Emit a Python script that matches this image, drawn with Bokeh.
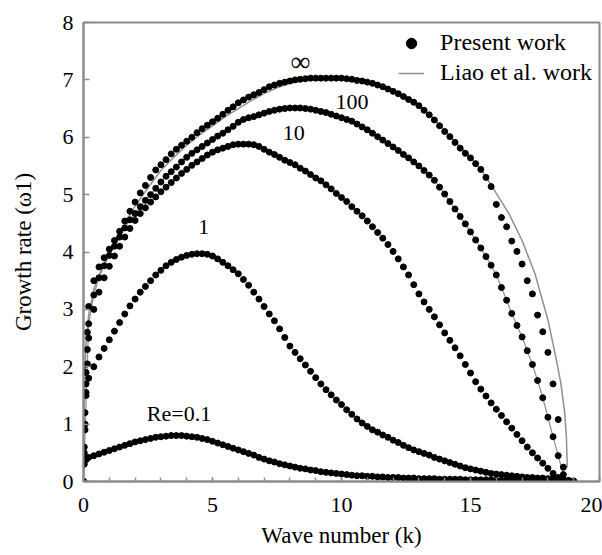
from bokeh.plotting import figure
from bokeh.models import Label, Legend, LegendItem, SingleIntervalTicker, Range1d
from bokeh.embed import file_html
from bokeh.resources import INLINE

# ---------------- data ----------------
K_GRID = [0.2, 0.4, 0.6, 0.8, 1.0, 1.2, 1.4, 1.6, 1.8, 2.0,
          2.2, 2.4, 2.6, 2.8, 3.0, 3.2, 3.4, 3.6, 3.8, 4.0,
          4.2, 4.4, 4.6, 4.8, 5.0, 5.2, 5.4, 5.6, 5.8, 6.0,
          6.2, 6.4, 6.6, 6.8, 7.0, 7.2, 7.4, 7.6, 7.8, 8.0,
          8.2, 8.4, 8.6, 8.8, 9.0, 9.2, 9.4, 9.6, 9.8, 10.0,
          10.2, 10.4, 10.6, 10.8, 11.0, 11.2, 11.4, 11.6, 11.8, 12.0,
          12.2, 12.4, 12.6, 12.8, 13.0, 13.2, 13.4, 13.6, 13.8, 14.0,
          14.2, 14.4, 14.6, 14.8, 15.0, 15.2, 15.4, 15.6, 15.8, 16.0,
          16.2, 16.4, 16.6, 16.8, 17.0, 17.2, 17.4, 17.6, 17.8, 18.0,
          18.2, 18.4, 18.6, 18.8, 19.0]

k_start = [0.0, 0.03, 0.06, 0.1, 0.15]
w_inf_start = [0.0, 0.6, 1.2, 1.9, 2.6]
w_100_start = [0.0, 0.5, 1.0, 1.7, 2.3]
w_10_start = [0.0, 0.45, 0.9, 1.5, 2.05]
k_re1_start = [0.0, 0.1]
w_re1_start = [2.02, 1.55]
k_re01_start = [0.0, 0.03, 0.1]
w_re01_start = [0.0, 0.3, 0.38]

w_inf = [3.05, 3.5, 3.74, 3.9, 4.05, 4.2, 4.36, 4.54, 4.71, 4.87,
         5.03, 5.16, 5.3, 5.43, 5.52, 5.61, 5.71, 5.79, 5.86, 5.93,
         6.0, 6.08, 6.15, 6.21, 6.27, 6.33, 6.4, 6.47, 6.53, 6.6,
         6.65, 6.7, 6.74, 6.78, 6.83, 6.88, 6.91, 6.94, 6.96, 6.98,
         7.0, 7.01, 7.02, 7.03, 7.03, 7.03, 7.03, 7.03, 7.03, 7.03,
         7.02, 7.01, 6.99, 6.98, 6.96, 6.94, 6.91, 6.88, 6.84, 6.8,
         6.76, 6.71, 6.66, 6.61, 6.55, 6.47, 6.39, 6.3, 6.2, 6.1,
         6.01, 5.91, 5.81, 5.72, 5.64, 5.54, 5.44, 5.3, 5.14, 4.83,
         4.6, 4.44, 4.19, 4.01, 3.79, 3.5, 3.27, 2.9, 2.61, 2.25,
         1.7, 1.08, 0.25]

w_100 = [2.75, 3.25, 3.55, 3.76, 3.94, 4.1, 4.26, 4.42, 4.56, 4.67,
         4.79, 4.9, 5.0, 5.11, 5.22, 5.32, 5.4, 5.48, 5.57, 5.65,
         5.72, 5.78, 5.84, 5.9, 5.96, 6.02, 6.07, 6.13, 6.19, 6.26,
         6.31, 6.34, 6.36, 6.39, 6.42, 6.45, 6.47, 6.49, 6.5, 6.51,
         6.51, 6.51, 6.5, 6.49, 6.47, 6.45, 6.43, 6.4, 6.37, 6.34,
         6.31, 6.28, 6.23, 6.18, 6.13, 6.07, 6.01, 5.95, 5.89, 5.83,
         5.77, 5.7, 5.64, 5.57, 5.5, 5.42, 5.34, 5.25, 5.13, 5.01,
         4.88, 4.75, 4.62, 4.49, 4.35, 4.21, 4.07, 3.92, 3.77, 3.6,
         3.38, 3.16, 2.93, 2.72, 2.52, 2.28, 2.04, 1.76, 1.46, 1.12,
         0.78, 0.45, 0.12]

w_10 = [2.5, 3.0, 3.3, 3.55, 3.75, 3.93, 4.1, 4.26, 4.41, 4.55,
        4.67, 4.77, 4.87, 4.96, 5.05, 5.13, 5.21, 5.29, 5.37, 5.44,
        5.51, 5.57, 5.63, 5.69, 5.74, 5.78, 5.81, 5.84, 5.87, 5.88,
        5.88, 5.88, 5.87, 5.84, 5.79, 5.74, 5.7, 5.65, 5.6, 5.56,
        5.52, 5.46, 5.41, 5.35, 5.29, 5.24, 5.17, 5.1, 5.02, 4.95,
        4.88, 4.79, 4.71, 4.63, 4.54, 4.44, 4.34, 4.24, 4.13, 4.01,
        3.88, 3.74, 3.6, 3.43, 3.27, 3.13, 3.0, 2.87, 2.73, 2.59,
        2.46, 2.33, 2.19, 2.04, 1.89, 1.74, 1.61, 1.49, 1.37, 1.26,
        1.15, 1.04, 0.93, 0.82, 0.71, 0.6, 0.5, 0.41, 0.32, 0.23,
        0.14, 0.07, 0.03, 0.01]

w_1 = [1.8, 2.0, 2.17, 2.32, 2.47, 2.62, 2.77, 2.92, 3.06, 3.18,
       3.3, 3.4, 3.5, 3.6, 3.68, 3.76, 3.82, 3.87, 3.91, 3.94,
       3.96, 3.97, 3.97, 3.96, 3.93, 3.88, 3.82, 3.76, 3.69, 3.62,
       3.52, 3.42, 3.3, 3.18, 3.05, 2.92, 2.8, 2.66, 2.51, 2.36,
       2.25, 2.14, 2.03, 1.92, 1.81, 1.7, 1.6, 1.51, 1.42, 1.34,
       1.25, 1.17, 1.09, 1.02, 0.96, 0.9, 0.86, 0.81, 0.77, 0.72,
       0.68, 0.63, 0.59, 0.55, 0.52, 0.49, 0.46, 0.42, 0.39, 0.36,
       0.33, 0.3, 0.27, 0.24, 0.22, 0.2, 0.18, 0.16, 0.14, 0.13,
       0.12, 0.11, 0.1, 0.09, 0.08, 0.07, 0.07, 0.06, 0.06, 0.05,
       0.05, 0.04, 0.03, 0.02, 0.01]

w_01 = [0.42, 0.45, 0.48, 0.51, 0.54, 0.57, 0.6, 0.63, 0.66, 0.69,
        0.71, 0.73, 0.75, 0.77, 0.78, 0.79, 0.8, 0.8, 0.8, 0.79,
        0.78, 0.77, 0.75, 0.73, 0.7, 0.67, 0.64, 0.61, 0.58, 0.55,
        0.52, 0.49, 0.46, 0.42, 0.39, 0.36, 0.34, 0.31, 0.29, 0.27,
        0.25, 0.23, 0.22, 0.2, 0.19, 0.17, 0.16, 0.15, 0.14, 0.13,
        0.12, 0.11, 0.1, 0.1, 0.09, 0.09, 0.08, 0.08, 0.07, 0.07,
        0.07, 0.06, 0.06, 0.06, 0.05, 0.05, 0.05, 0.05, 0.04, 0.04,
        0.04, 0.04, 0.04, 0.03, 0.03, 0.03, 0.03, 0.03, 0.03, 0.02,
        0.02, 0.02, 0.02, 0.02, 0.02, 0.02, 0.01, 0.01, 0.01, 0.01,
        0.01, 0.01, 0.01, 0.0, 0.0]

k_liao = [0.0, 0.02, 0.05, 0.1, 0.2, 0.4, 0.7, 1.0, 1.5, 2.0, 2.5, 3.0, 3.5, 4.0,
          4.5, 5.0, 5.5, 6.0, 6.5, 7.0, 7.5, 8.0, 8.5, 9.0, 9.5, 10.0, 10.5,
          11.0, 11.5, 12.0, 12.5, 13.0, 13.5, 14.0, 14.5, 15.0, 15.5, 16.0,
          16.5, 17.0, 17.5, 18.0, 18.3, 18.5, 18.65, 18.72, 18.75]
w_liao = [0.0, 1.0, 1.8, 2.4, 2.9, 3.35, 3.7, 3.98, 4.42, 4.8, 5.12, 5.42, 5.65,
          5.86, 6.04, 6.2, 6.36, 6.5, 6.64, 6.76, 6.86, 6.94, 6.99, 7.02, 7.03,
          7.02, 6.99, 6.95, 6.88, 6.8, 6.69, 6.56, 6.36, 6.12, 5.88, 5.65, 5.38,
          5.02, 4.66, 4.2, 3.62, 2.82, 2.18, 1.72, 1.2, 0.75, 0.25]

curve_labels = ["\u221e", "100", "10", "1", "Re=0.1"]
curve_label_k = [8.41, 10.41, 8.15, 4.66, 3.7]
curve_label_w = [7.32, 6.62, 6.07, 4.44, 1.18]

legend_labels = ["Present work", "Liao et al. work"]
x_axis_title = "Wave number (k)"
y_axis_title = "Growth rate (\u03c91)"

# ---------------- figure ----------------
AXIS_GRAY = "#8c8c8c"
FONT = "Liberation Serif"

p = figure(width=602, height=555, x_range=Range1d(0, 20), y_range=Range1d(0, 8),
           output_backend="svg", toolbar_location=None,
           min_border_left=83, min_border_right=3, min_border_top=22, min_border_bottom=74)
p.grid.visible = False
p.outline_line_color = AXIS_GRAY
p.outline_line_width = 2
p.background_fill_color = "white"
p.border_fill_color = "white"

r_liao = p.line(k_liao, w_liao, line_color="#909090", line_width=1.5)
p.line(k_start[:1] + K_GRID[:len(w_100)], [0.0] + w_100, line_color="#909090", line_width=1.2)

dot_style = dict(marker="circle", size=6, fill_color="black", line_color="black")
r_inf = p.scatter(k_start + K_GRID[:len(w_inf)], w_inf_start + w_inf, **dot_style)
p.scatter(k_start + K_GRID[:len(w_100)], w_100_start + w_100, **dot_style)
p.scatter(k_start + K_GRID[:len(w_10)], w_10_start + w_10, **dot_style)
p.scatter(k_re1_start + K_GRID[:len(w_1)], w_re1_start + w_1, **dot_style)
p.scatter(k_re01_start + K_GRID[:len(w_01)], w_re01_start + w_01, **dot_style)

for txt, kx, wy in zip(curve_labels, curve_label_k, curve_label_w):
    size = "28px" if txt == "\u221e" else "22px"
    p.add_layout(Label(x=kx, y=wy, text=txt, text_align="center", text_baseline="middle",
                       text_font=FONT, text_font_size=size, text_color="black"))

for ax in (p.xaxis[0], p.yaxis[0]):
    ax.axis_line_color = AXIS_GRAY
    ax.axis_line_width = 2
    ax.major_tick_line_color = AXIS_GRAY
    ax.minor_tick_line_color = AXIS_GRAY
    ax.major_tick_line_width = 1.5
    ax.minor_tick_line_width = 1.5
    ax.major_tick_out = 0
    ax.minor_tick_out = 0
    ax.major_label_text_font = FONT
    ax.major_label_text_font_size = "22px"
    ax.major_label_text_color = "black"
    ax.axis_label_text_font = FONT
    ax.axis_label_text_font_size = "23px"
    ax.axis_label_text_font_style = "normal"
    ax.axis_label_text_color = "black"

p.xaxis.ticker = SingleIntervalTicker(interval=5, num_minor_ticks=5)
p.xaxis.major_tick_in = 4
p.xaxis.minor_tick_in = 4
p.xaxis.major_label_standoff = 16
p.xaxis.axis_label = x_axis_title
p.xaxis.axis_label_standoff = 8

p.yaxis.ticker = SingleIntervalTicker(interval=1, num_minor_ticks=0)
p.yaxis.major_tick_in = 6
p.yaxis.minor_tick_in = 0
p.yaxis.major_label_standoff = 10
p.yaxis.axis_label = y_axis_title
p.yaxis.axis_label_standoff = 24

legend = Legend(items=[LegendItem(label=legend_labels[0], renderers=[r_inf]),
                       LegendItem(label=legend_labels[1], renderers=[r_liao])],
                location="top_right", border_line_color=None, background_fill_alpha=0,
                label_text_font=FONT, label_text_font_size="24px", label_text_color="black",
                glyph_width=26, glyph_height=26, label_height=26, label_standoff=16,
                spacing=3, padding=8, margin=7)
p.add_layout(legend)

open("out.html", "w").write(file_html(p, INLINE))
